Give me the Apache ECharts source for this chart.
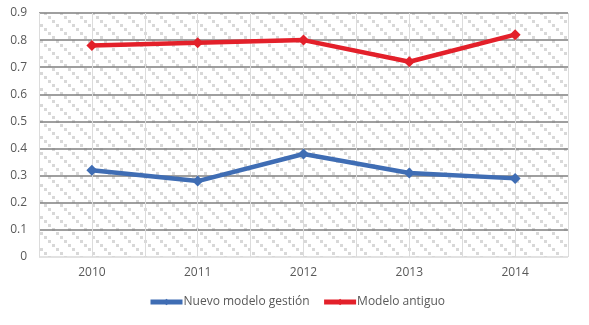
<!DOCTYPE html>
<html><head><meta charset="utf-8">
<script src="https://cdn.jsdelivr.net/npm/echarts@6/dist/echarts.min.js"></script>
<style>html,body{margin:0;padding:0;background:#fff}#c{width:589px;height:325px}</style>
</head><body><div id="c"></div>
<script>
const categories = ['2010', '2011', '2012', '2013', '2014'];
const nuevoModelo = [0.32, 0.28, 0.38, 0.31, 0.29];
const modeloAntiguo = [0.78, 0.79, 0.80, 0.72, 0.82];
const seriesNames = ['Nuevo modelo gestión', 'Modelo antiguo'];

const tile = document.createElement('canvas');
tile.width = 16; tile.height = 16;
const tc = tile.getContext('2d');
tc.fillStyle = '#fff'; tc.fillRect(0, 0, 16, 16);
tc.fillStyle = '#d8d8d8';
for (let k = 0; k < 4; k++) { tc.fillRect(k * 4, k * 4, 3, 3); }

const chart = echarts.init(document.getElementById('c'));
const font = "'Open Sans', 'Noto Sans', sans-serif";
const ySplitColors = ['#d9d9d9'].concat(new Array(9).fill('#7f7f7f'));
chart.setOption({
  animation: false,
  textStyle: { fontFamily: font },
  grid: { left: 39, right: 21, top: 13, bottom: 68, show: true, borderWidth: 0,
          backgroundColor: { image: tile, repeat: 'repeat' } },
  legend: {
    bottom: 12, left: 143, itemWidth: 32, itemHeight: 8, itemGap: 12,
    textStyle: { color: '#595959', fontSize: 12, fontFamily: font, padding: [0, 0, 0, -4] },
    lineStyle: { width: 5 },
    data: seriesNames
  },
  xAxis: [
    { type: 'category', data: categories, boundaryGap: true,
      axisLine: { show: false }, axisTick: { show: false },
      axisLabel: { color: '#595959', fontSize: 12, margin: 10 },
      splitLine: { show: false } },
    { type: 'value', min: 0, max: 10, interval: 1, show: true, position: 'bottom',
      axisLine: { show: false }, axisTick: { show: false }, axisLabel: { show: false },
      splitLine: { show: true, lineStyle: { color: '#dcdcdc', width: 1 } } }
  ],
  yAxis: {
    type: 'value', min: 0, max: 0.9, interval: 0.1,
    axisLine: { show: false }, axisTick: { show: false },
    axisLabel: { color: '#595959', fontSize: 12, margin: 12,
      formatter: v => String(Math.round(v * 10) / 10) },
    splitLine: { show: true, lineStyle: { color: ySplitColors, width: 1.5 } }
  },
  series: [
    { name: seriesNames[0], type: 'line', data: nuevoModelo, xAxisIndex: 0,
      symbol: 'diamond', symbolSize: 11, color: '#3f6db4',
      lineStyle: { width: 4.5 }, itemStyle: { color: '#3f6db4' } },
    { name: seriesNames[1], type: 'line', data: modeloAntiguo, xAxisIndex: 0,
      symbol: 'diamond', symbolSize: 11, color: '#e3202a',
      lineStyle: { width: 4.5 }, itemStyle: { color: '#e3202a' } }
  ]
});
</script></body></html>
